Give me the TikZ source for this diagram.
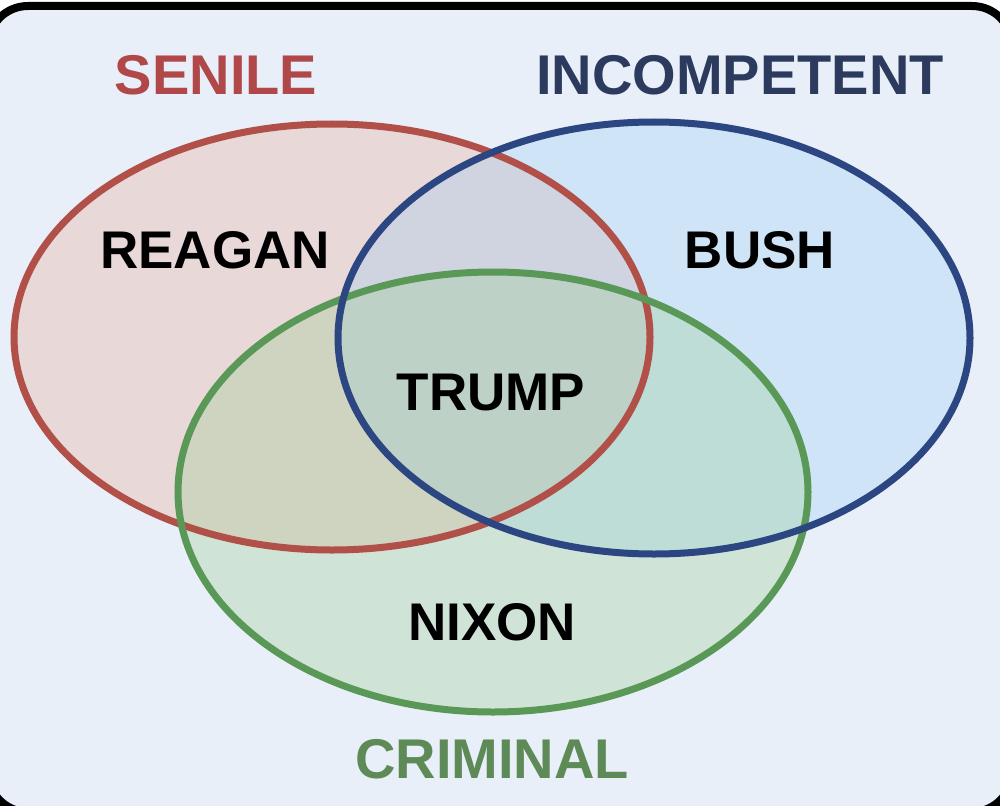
\documentclass[tikz,border=0pt]{standalone}
\usepackage{fontspec}
\setmainfont{Liberation Sans}
\definecolor{bgc}{RGB}{233,239,248}
\definecolor{redfill}{RGB}{230,165,140}
\definecolor{bluefill}{RGB}{150,205,245}
\definecolor{greenfill}{RGB}{150,205,140}
\definecolor{redline}{RGB}{176,80,72}
\definecolor{blueline}{RGB}{44,70,130}
\definecolor{greenline}{RGB}{90,152,88}
\definecolor{senilec}{RGB}{176,72,74}
\definecolor{incompc}{RGB}{44,58,94}
\definecolor{crimc}{RGB}{94,138,88}
\tikzset{
  setfill/.style={fill opacity=0.3},
  setline/.style={line width=7pt},
  titlelbl/.style={font=\fontsize{56}{60}\selectfont\bfseries, anchor=base, inner sep=0pt},
  namelbl/.style={font=\fontsize{53}{58}\selectfont\bfseries, anchor=base, inner sep=0pt, text=black}
}
\begin{document}
\begin{tikzpicture}[x=1pt,y=-1pt]
\useasboundingbox (0,0) rectangle (1000,805);
\fill[white] (0,0) rectangle (1000,805);
\draw[line width=8pt, fill=bgc, rounded corners=40pt] (-12,6) rectangle (1012,812);
% fills
\fill[redfill, setfill] (332,337) ellipse [x radius=318, y radius=213];
\fill[bluefill, setfill] (654,338) ellipse [x radius=316, y radius=216];
\fill[greenfill, setfill] (493,492) ellipse [x radius=315, y radius=220];
% outlines
\draw[redline, setline] (332,337) ellipse [x radius=318, y radius=213];
\draw[greenline, setline] (493,492) ellipse [x radius=315, y radius=220];
\draw[blueline, setline] (654,338) ellipse [x radius=316, y radius=216];
% labels
\node[titlelbl, text=senilec] (senile) at (216,95) {SENILE};
\node[titlelbl, text=incompc] (incomp) at (740,95) {INCOMPETENT};
\node[titlelbl, text=crimc] (criminal) at (492,778) {CRIMINAL};
\node[namelbl] (reagan) at (215,268) {REAGAN};
\node[namelbl] (bush) at (760,268) {BUSH};
\node[namelbl] (trump) at (491,410) {TRUMP};
\node[namelbl] (nixon) at (492,640) {NIXON};
\end{tikzpicture}
\end{document}
